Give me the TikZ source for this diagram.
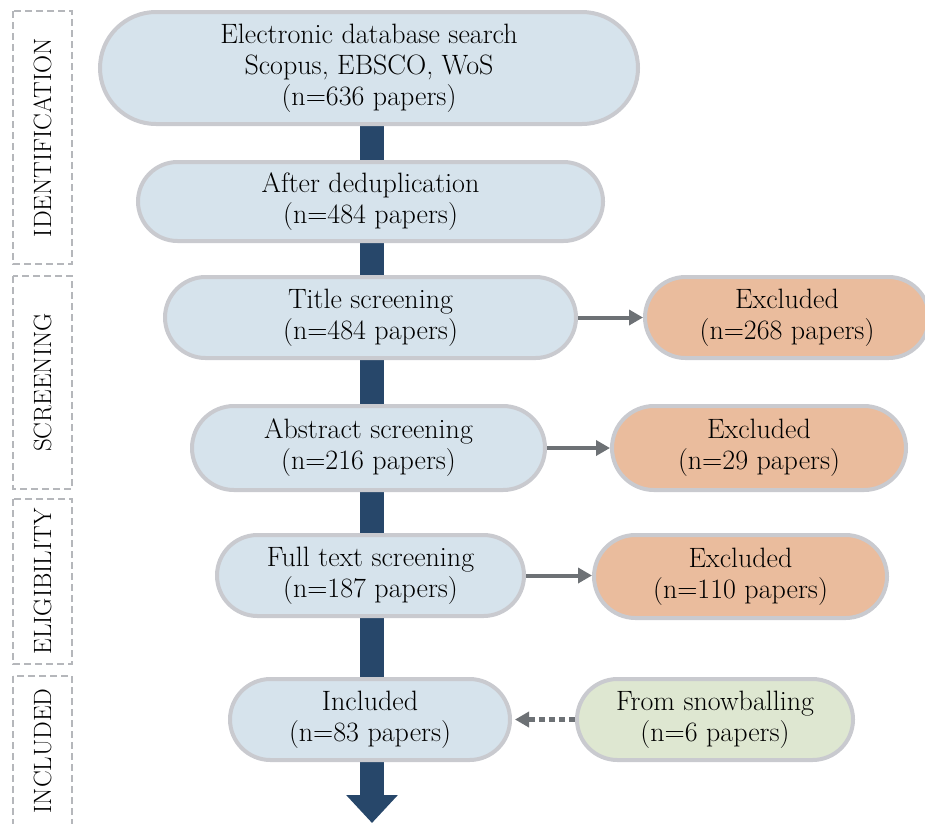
\documentclass[tikz,border=0pt]{standalone}
\usetikzlibrary{shapes.misc,arrows.meta,backgrounds}
\definecolor{boxblue}{HTML}{D6E3EC}
\definecolor{boxorange}{HTML}{EABC9D}
\definecolor{boxgreen}{HTML}{DEE7D1}
\definecolor{rimgray}{HTML}{C9CACF}
\definecolor{flowblue}{HTML}{27476A}
\definecolor{linkgray}{HTML}{6D7175}
\definecolor{dashgray}{HTML}{B5B7BB}
\begin{document}
\begin{tikzpicture}[x=1pt,y=-1pt,
    stage/.style={rounded rectangle,draw=rimgray,line width=4pt,fill=boxblue,
        align=center,inner sep=0pt,font=\fontsize{28}{31}\selectfont},
    excl/.style={stage,fill=boxorange},
    extra/.style={stage,fill=boxgreen},
    phase/.style={draw=dashgray,line width=2.4pt,dash pattern=on 7pt off 4pt,
        rotate=90,minimum height=59pt,inner sep=0pt,font=\fontsize{25}{31}\selectfont},
    link/.style={draw=linkgray,line width=4pt,-{Triangle[width=15pt,length=14pt]}}]
    \useasboundingbox (0,0) rectangle (925,823);
    \node[phase,minimum width=253pt] (phid) at (42.5,137.5) {IDENTIFICATION};
    \node[phase,minimum width=213pt] (phscr) at (42.5,382.5) {SCREENING};
    \node[phase,minimum width=165pt] (phel) at (42.5,581.5) {ELIGIBILITY};
    \node[phase,minimum width=150pt] (phinc) at (42.5,751) {INCLUDED};
    \node[stage,minimum width=538pt,minimum height=112pt] (search) at (369,68)
        {Electronic database search\\Scopus, EBSCO, WoS\\(n=636 papers)};
    \node[stage,minimum width=465pt,minimum height=79pt] (dedup) at (370.5,201.5)
        {After deduplication\\(n=484 papers)};
    \node[stage,minimum width=411pt,minimum height=81pt] (title) at (370.5,317.5)
        {Title screening\\(n=484 papers)};
    \node[stage,minimum width=353pt,minimum height=84pt] (abstract) at (368.5,448)
        {Abstract screening\\(n=216 papers)};
    \node[stage,minimum width=307pt,minimum height=81pt] (fulltext) at (370.5,575.5)
        {Full text screening\\(n=187 papers)};
    \node[stage,minimum width=280pt,minimum height=81pt] (included) at (370,719.5)
        {Included\\(n=83 papers)};
    \node[excl,minimum width=284pt,minimum height=81pt] (excla) at (787,317.5)
        {Excluded\\(n=268 papers)};
    \node[excl,minimum width=294pt,minimum height=84pt] (exclb) at (759,448)
        {Excluded\\(n=29 papers)};
    \node[excl,minimum width=293pt,minimum height=83pt] (exclc) at (740.5,576.5)
        {Excluded\\(n=110 papers)};
    \node[extra,minimum width=276pt,minimum height=81pt] (snow) at (715,719.5)
        {From snowballing\\(n=6 papers)};
    \coordinate (flowend) at (372,823);
    \begin{scope}[on background layer]
        \draw[flowblue,line width=24pt,-{Triangle[width=50pt,length=28pt]}] (search.south -| flowend) -- (flowend);
    \end{scope}
    \draw[link] (title.east) -- (excla.west);
    \draw[link] (abstract.east) -- (exclb.west);
    \draw[link] (fulltext.east) -- (fulltext.east -| exclc.west);
    \draw[link,line width=5pt,dash pattern=on 6pt off 4pt,shorten >=3pt] (snow.west) -- (included.east);
\end{tikzpicture}
\end{document}
